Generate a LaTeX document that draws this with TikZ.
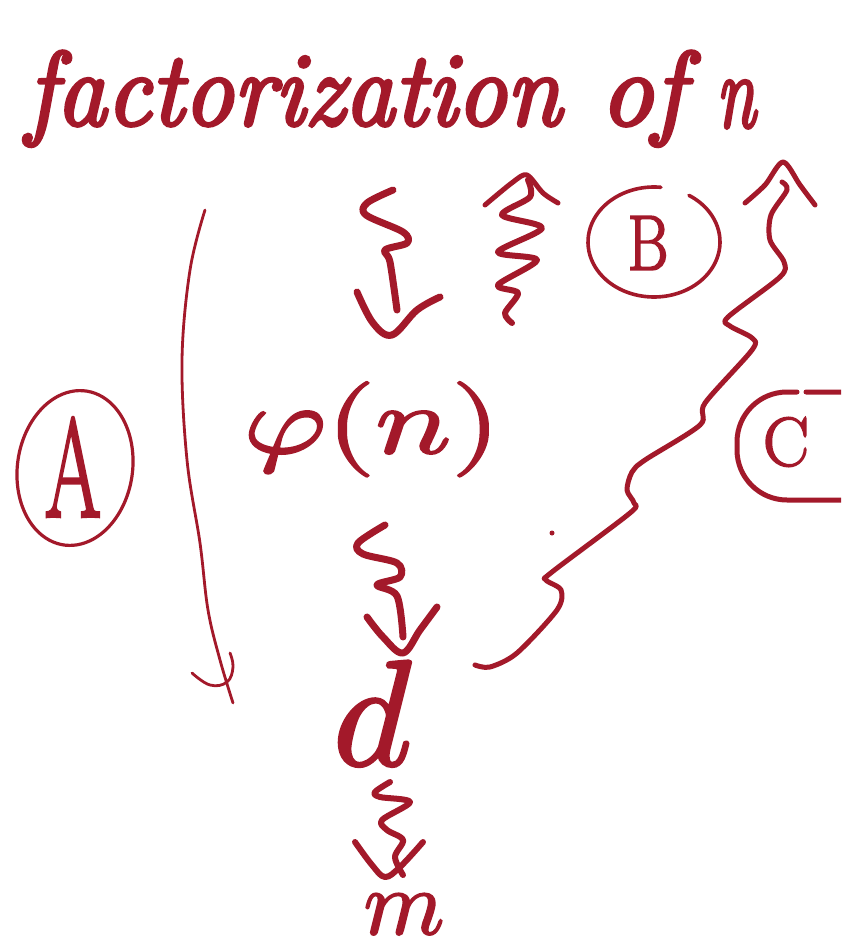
\documentclass[tikz,border=0pt]{standalone}
\usepackage{fontspec}
\usepackage{unicode-math}
\setmathfont{Latin Modern Math}[FakeBold=2]
\usepackage{graphicx}
\newfontfamily\handit{Latin Modern Roman}[FakeBold=3.5]
\newfontfamily\handup{Latin Modern Roman}[FakeBold=2.5]
\definecolor{inkc}{RGB}{163,25,42}
\tikzset{
  ink/.style={draw=inkc, line cap=round, line join=round},
  pen/.style={ink, line width=7pt},
  midpen/.style={ink, line width=5pt},
  finepen/.style={ink, line width=3.2pt},
  txt/.style={text=inkc, inner sep=0pt, anchor=base},
}
\begin{document}
\begin{tikzpicture}[x=1pt,y=-1pt]
\useasboundingbox (0,0) rectangle (841,947);
\clip (0,0) rectangle (841,947);
\fill[white] (0,0) rectangle (841,947);

% title
\node[txt, anchor=base west] (fact) at (26,125) {\handit\fontsize{105}{105}\selectfont\itshape\scalebox{0.95}[1]{factorization}};
\node[txt, anchor=base west] (of) at (600,125) {\handit\fontsize{105}{105}\selectfont\itshape of};
\node[txt, anchor=base west] (n) at (716,127) {\handit\fontsize{105}{105}\selectfont\itshape\scalebox{0.68}[1]{n}};

% middle column
\node[txt] (phi) at (372,453) {\fontsize{95}{95}\selectfont\scalebox{1.33}[1]{$\varphi(n)$}};
\node[txt] (d) at (374,765) {\fontsize{150}{150}\selectfont$d$};
\node[txt] (m) at (404,934) {\fontsize{92}{92}\selectfont$m$};

% circled labels
\node[txt, anchor=center] (labA) at (73,467) {\handup\fontsize{140}{140}\selectfont\scalebox{0.58}[1]{A}};
\node[txt, anchor=center] (labB) at (648,243) {\handup\fontsize{78}{78}\selectfont\scalebox{0.8}[1]{B}};
\node[txt, anchor=center] (labC) at (786,442) {\handup\fontsize{69}{69}\selectfont C};

% circle A (slightly tilted ellipse)
\draw[finepen] plot[domain=0:360, samples=90, smooth]
  ({75 + 57*cos(\x) + 11*sin(\x)}, {468 + 8*cos(\x) - 77*sin(\x)});
% circle B (gap at top)
\draw[finepen, line width=3.6pt] plot[domain=84:418, samples=80, smooth]
  ({654 + 66*cos(\x)}, {242 - 55*sin(\x)});
% circle C (rounded square, cut at right)
\draw[midpen, rounded corners=50pt] (797,392) -- (737,392) -- (737,500) -- (900,500) -- (900,392) -- (806,392);

% A: long line with arrow tick
\draw[finepen, line width=2.8pt] plot[smooth, tension=0.6] coordinates
  {(205,210) (190,270) (182,360) (187,460) (200,543) (208,610) (220,660) (233,703)};
\draw[finepen, line width=2.8pt] plot[smooth, tension=0.7] coordinates
  {(192,673) (210,685) (227,682) (233,667) (230,653)};

% squiggle: factorization -> phi(n)
\draw[pen] plot[smooth, tension=0.55] coordinates
  {(393,190) (367,203) (366,215) (403,232) (407,243) (385,250) (390,262) (397,310)};
\draw[pen] plot[smooth, tension=0.6] coordinates
  {(357,292) (373,323) (392,335) (417,310) (440,297)};

% squiggle B: upward
\draw[midpen, line width=6pt] plot[smooth, tension=0.5] coordinates
  {(512,323) (505,313) (518,293) (498,285) (537,260) (498,252) (542,228) (502,215) (530,197) (528,180)};
\draw[midpen, line width=5pt] plot[smooth, tension=0.5] coordinates
  {(485,205) (513,182) (527,175) (543,193) (558,203)};

% squiggle: phi(n) -> d
\draw[pen] plot[smooth, tension=0.55] coordinates
  {(385,525) (358,543) (363,554) (397,563) (400,577) (377,585) (397,596) (403,637)};
\draw[pen] plot[smooth, tension=0.6] coordinates
  {(367,617) (383,637) (403,653) (420,630) (437,607)};

% squiggle: d -> m
\draw[pen, line width=6pt] plot[smooth, tension=0.55] coordinates
  {(390,782) (375,792) (380,797) (410,802) (382,820) (387,830) (403,840) (395,857) (403,875)};
\draw[pen, line width=6pt] plot[smooth, tension=0.6] coordinates
  {(355,842) (372,865) (385,877) (400,867) (423,842)};

% C: long wiggly arrow from d up to n
\draw[midpen] plot[smooth, tension=0.5] coordinates
  {(475,665) (490,667) (517,653) (557,610) (561,590) (546,580) (552,572)
   (630,513) (634,503) (627,490) (632,472) (645,460) (700,425) (705,403)
   (752,350) (752,338) (730,326) (728,317) (780,277) (784,262) (770,240)
   (771,215) (787,190) (782,182)};
\draw[midpen] plot[smooth, tension=0.5] coordinates
  {(745,203) (765,185) (783,162) (800,185) (815,205)};

% stray dot
\fill[inkc] (552,533) circle (2.5pt);
\end{tikzpicture}
\end{document}
